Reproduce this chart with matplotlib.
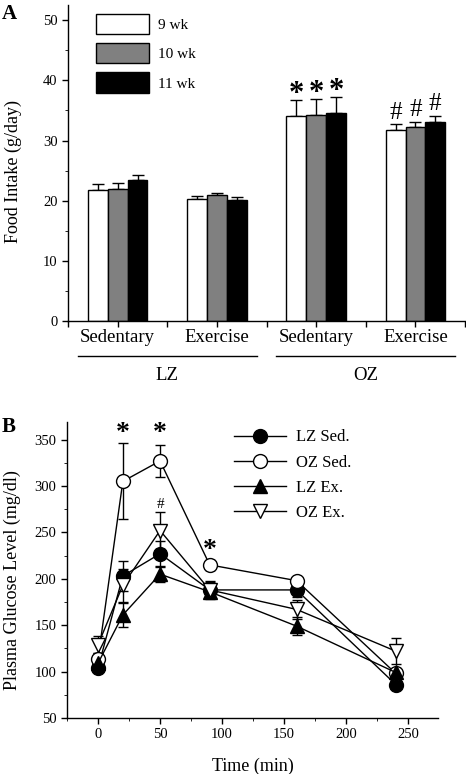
import numpy as np
import matplotlib
matplotlib.use("Agg")
import matplotlib.pyplot as plt
from matplotlib.lines import Line2D

plt.rcParams["font.family"] = ["Liberation Serif", "DejaVu Serif"]
plt.rcParams["axes.linewidth"] = 1.0

# Panel A data
groups = ["Sedentary", "Exercise", "Sedentary", "Exercise"]
strains = ["LZ", "OZ"]
weeks = ["9 wk", "10 wk", "11 wk"]
intake_9 = [21.8, 20.3, 34.0, 31.7]
intake_10 = [21.9, 20.9, 34.2, 32.3]
intake_11 = [23.4, 20.2, 34.6, 33.1]
err_9 = [1.0, 0.5, 2.8, 1.0]
err_10 = [1.1, 0.4, 2.7, 0.8]
err_11 = [0.8, 0.5, 2.6, 1.0]
marks_a = ["", "", "*", "#"]

# Panel B data
time_min = [0, 20, 50, 90, 160, 240]
lz_sed = [104, 203, 227, 188, 188, 86]
oz_sed = [114, 305, 327, 215, 198, 98]
lz_ex = [109, 161, 205, 186, 149, 99]
oz_ex = [129, 193, 252, 188, 167, 122]
lz_sed_err = [5, 16, 14, 8, 8, 5]
oz_sed_err = [6, 41, 17, 5, 4, 5]
lz_ex_err = [5, 13, 9, 6, 10, 5]
oz_ex_err = [9, 18, 20, 10, 10, 14]

fig = plt.figure(figsize=(4.66, 7.74), dpi=100)

# ---------- Panel A ----------
axA = fig.add_axes([0.146, 0.585, 0.852, 0.4085])
centers = np.array([1, 3, 5, 7])
w = 0.4
colors = ["white", "#808080", "black"]
for k, (vals, errs) in enumerate(zip([intake_9, intake_10, intake_11], [err_9, err_10, err_11])):
    x = centers + (k - 1) * w
    axA.bar(x, vals, width=w, color=colors[k], edgecolor="black", linewidth=1.0,
            label=weeks[k], zorder=2)
    axA.errorbar(x, vals, yerr=[np.zeros(len(errs)), errs], fmt="none", ecolor="black",
                 elinewidth=1.0, capsize=4, capthick=1.0, zorder=1)
    for xi, v, e, m in zip(x, vals, errs, marks_a):
        if m == "*":
            axA.text(xi, v + e - 1.5, m, ha="center", va="bottom", fontsize=22, fontweight="bold")
        elif m == "#":
            axA.text(xi, v + e + 0.1, m, ha="center", va="bottom", fontsize=18)

axA.set_xlim(0, 8)
axA.set_ylim(0, 52.5)
axA.set_xticks(np.arange(0, 9))
axA.set_xticklabels([])
axA.set_yticks(np.arange(0, 51, 10))
axA.set_yticks(np.arange(0, 51, 5), minor=True)
axA.tick_params(axis="both", direction="out", length=4, width=1, labelsize=10.5)
axA.tick_params(axis="y", which="minor", length=2.5)
axA.spines["top"].set_visible(False)
axA.spines["right"].set_visible(False)
axA.set_ylabel("Food Intake (g/day)", fontsize=13, labelpad=17)
axA.yaxis.set_label_coords(-0.115, 0.475)

trans = axA.get_xaxis_transform()
for c, g in zip(centers, groups):
    axA.text(c, -0.05, g, transform=trans, ha="center", va="center", fontsize=13.5)
for i, s in enumerate(strains):
    x0, x1 = 0.2 + 4 * i, 3.8 + 4 * i
    axA.add_line(Line2D([x0, x1], [-0.111, -0.111], transform=trans, color="black",
                        linewidth=1.0, clip_on=False))
    axA.text((x0 + x1) / 2, -0.171, s, transform=trans, ha="center", va="center", fontsize=13.5)

axA.legend(loc="upper left", bbox_to_anchor=(0.07, 0.972), frameon=False, fontsize=11,
           handlelength=3.5, handleheight=1.65, labelspacing=0.6, handletextpad=0.6,
           borderpad=0, borderaxespad=0)

fig.text(0.003, 0.982, "A", fontsize=15, fontweight="bold", va="center", ha="left")

# ---------- Panel B ----------
axB = fig.add_axes([0.1438, 0.0724, 0.796, 0.3824])
series = [
    ("LZ Sed.", lz_sed, lz_sed_err, "o", "black"),
    ("OZ Sed.", oz_sed, oz_sed_err, "o", "white"),
    ("LZ Ex.", lz_ex, lz_ex_err, "^", "black"),
    ("OZ Ex.", oz_ex, oz_ex_err, "v", "white"),
]
for name, vals, errs, mk, fc in series:
    axB.errorbar(time_min, vals, yerr=errs, fmt="none", ecolor="black", elinewidth=1.0,
                 capsize=3.5, capthick=1.0, zorder=1)
    axB.plot(time_min, vals, color="black", linewidth=1.0, marker=mk, markersize=10,
             markerfacecolor=fc, markeredgecolor="black", markeredgewidth=1.0,
             label=name, zorder=3)

for t, y in [(20, 343), (50, 343), (90, 217)]:
    axB.text(t, y, "*", ha="center", va="bottom", fontsize=20, fontweight="bold")
axB.text(50, 273, "#", ha="center", va="bottom", fontsize=11)

axB.set_xlim(-24, 274)
axB.set_ylim(50, 369)
axB.set_xticks(np.arange(0, 251, 50))
axB.set_xticks(np.arange(-25, 275, 25), minor=True)
axB.set_yticks(np.arange(50, 351, 50))
axB.set_yticks(np.arange(50, 370, 25), minor=True)
axB.tick_params(axis="both", direction="out", length=4, width=1, labelsize=10.5)
axB.tick_params(axis="both", which="minor", length=2.5)
axB.spines["top"].set_visible(False)
axB.spines["right"].set_visible(False)
axB.set_xlabel("Time (min)", fontsize=13, labelpad=12)
axB.set_ylabel("Plasma Glucose Level (mg/dl)", fontsize=13, labelpad=13)
axB.yaxis.set_label_coords(-0.125, 0.466)

axB.legend(loc="upper left", bbox_to_anchor=(0.45, 0.975), frameon=False, fontsize=12,
           handlelength=3.1, labelspacing=0.55, handletextpad=0.65,
           borderpad=0, borderaxespad=0)

fig.text(0.003, 0.448, "B", fontsize=15, fontweight="bold", va="center", ha="left")

fig.savefig("out.png", dpi=100)
